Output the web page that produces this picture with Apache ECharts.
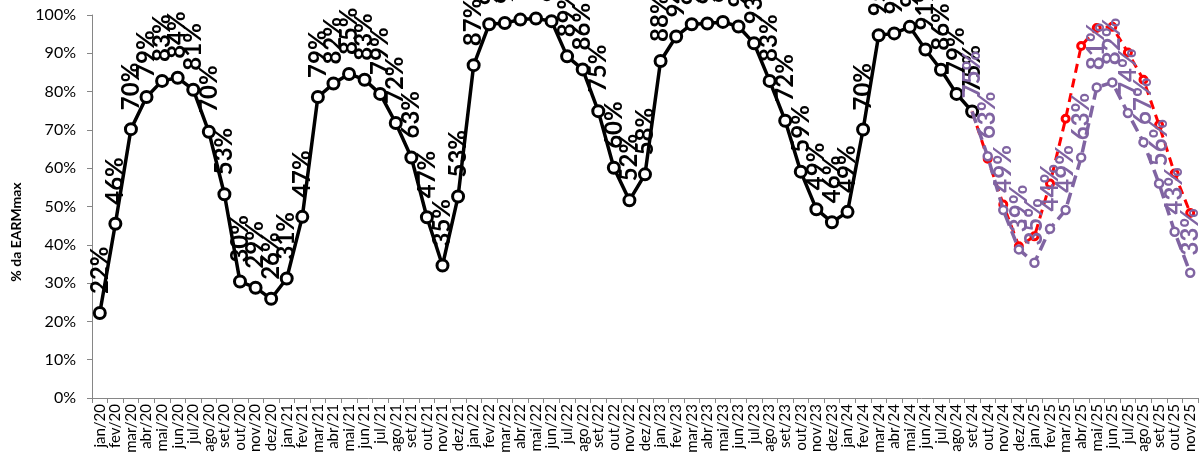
<!DOCTYPE html>
<html>
<head>
<meta charset="utf-8">
<script src="https://cdn.jsdelivr.net/npm/echarts@6/dist/echarts.min.js"></script>
<style>
  html, body { margin: 0; padding: 0; background: #fff; }
  #main { width: 1199px; height: 470px; }
</style>
</head>
<body>
<div id="main"></div>
<script>
// months jan/20 .. nov/25
let categories = [
  "jan/20", "fev/20", "mar/20", "abr/20", "mai/20", "jun/20", "jul/20", "ago/20", "set/20", "out/20", "nov/20", "dez/20",
  "jan/21", "fev/21", "mar/21", "abr/21", "mai/21", "jun/21", "jul/21", "ago/21", "set/21", "out/21", "nov/21", "dez/21",
  "jan/22", "fev/22", "mar/22", "abr/22", "mai/22", "jun/22", "jul/22", "ago/22", "set/22", "out/22", "nov/22", "dez/22",
  "jan/23", "fev/23", "mar/23", "abr/23", "mai/23", "jun/23", "jul/23", "ago/23", "set/23", "out/23", "nov/23", "dez/23",
  "jan/24", "fev/24", "mar/24", "abr/24", "mai/24", "jun/24", "jul/24", "ago/24", "set/24", "out/24", "nov/24", "dez/24",
  "jan/25", "fev/25", "mar/25", "abr/25", "mai/25", "jun/25", "jul/25", "ago/25", "set/25", "out/25", "nov/25",
];

// verified values, jan/20 .. set/24
let historico = [
  22.2, 45.5, 70.2, 78.6, 82.8, 83.6, 80.5, 69.5, 53.2, 30.4, 28.8, 25.9,
  31.2, 47.3, 78.6, 82.1, 84.6, 83.1, 79.4, 71.8, 62.8, 47.2, 34.6, 52.6,
  86.9, 97.6, 97.9, 98.8, 99.1, 98.4, 89.2, 85.8, 74.9, 60.1, 51.6, 58.4,
  88.0, 94.4, 97.6, 97.8, 98.2, 97.0, 92.6, 82.8, 72.4, 59.1, 49.3, 45.9,
  48.6, 70.1, 94.7, 95.2, 96.9, 91.0, 85.7, 79.4, 74.8,
];

// set/24 .. nov/25
let previsaoRoxa = [74.8, 63.1, 49.1, 38.8, 35.3, 44.2, 49.1, 62.8, 81.1, 82.4, 74.4, 66.8, 56.0, 43.4, 32.7];
let previsaoVermelha = [74.8, 62.5, 50.5, 39.6, 42.2, 56.0, 72.9, 91.9, 96.6, 96.9, 90.2, 83.1, 71.3, 58.6, 48.3];

let yTicks = [0, 10, 20, 30, 40, 50, 60, 70, 80, 90, 100];

let inicioPrevisao = historico.length - 1;

// forecast series start on the last verified month; their first marker stays hidden under the black one
function padSeries(values, start) {
  let out = [];
  for (let i = 0; i < categories.length; i++) {
    let k = i - start;
    if (k < 0 || k >= values.length) {
      out.push(null);
    } else if (k === 0 && start > 0) {
      out.push({ value: values[k], symbolSize: 0.1 });
    } else {
      out.push(values[k]);
    }
  }
  return out;
}

let fontFam = "Lato, 'Open Sans', sans-serif";

function pctLabel(color) {
  return {
    show: true,
    position: "top",
    rotate: 90,
    align: "left",
    verticalAlign: "middle",
    distance: 12,
    color: color,
    fontSize: 24,
    fontWeight: "bold",
    fontFamily: fontFam,
    formatter: function (p) {
      return Math.round(p.value) + "%";
    },
  };
}

let dom = document.getElementById("main");
let myChart = echarts.init(dom, null, { renderer: "canvas" });

let option = {
  backgroundColor: "#fff",
  animation: false,
  grid: { left: 92, right: 1, top: 15, bottom: 72 },
  graphic: [{
    type: "text",
    x: 16,
    y: 232,
    rotation: Math.PI / 2,
    style: {
      text: "% da EARMmax",
      fontSize: 14,
      fontWeight: "bold",
      fontFamily: fontFam,
      fill: "#000",
      textAlign: "center",
      textVerticalAlign: "middle",
    },
  }],
  xAxis: {
    type: "category",
    data: categories,
    boundaryGap: true,
    axisLine: { lineStyle: { color: "#868686", width: 1 } },
    axisTick: { show: true, length: 5, lineStyle: { color: "#868686" } },
    axisLabel: {
      interval: 0,
      rotate: 90,
      margin: 6,
      fontSize: 15,
      color: "#000",
      fontFamily: fontFam,
    },
    splitLine: { show: false },
  },
  yAxis: {
    type: "value",
    min: yTicks[0],
    max: yTicks[yTicks.length - 1],
    interval: 10,
    axisLine: { show: true, lineStyle: { color: "#868686", width: 1 } },
    axisTick: { show: true, length: 5, lineStyle: { color: "#868686" } },
    axisLabel: {
      margin: 16,
      fontSize: 16,
      color: "#000",
      fontFamily: fontFam,
      formatter: "{value}%",
    },
    splitLine: { show: false },
  },
  series: [
    {
      name: "Histórico",
      type: "line",
      data: padSeries(historico, 0),
      symbol: "circle",
      symbolSize: 11,
      lineStyle: { color: "#000", width: 3.5 },
      itemStyle: { color: "#fff", borderColor: "#000", borderWidth: 3 },
      label: pctLabel("#000"),
      z: 2,
    },
    {
      name: "Previsão 2",
      type: "line",
      data: padSeries(previsaoVermelha, inicioPrevisao),
      symbol: "circle",
      symbolSize: 7,
      lineStyle: { color: "#ff0000", width: 3, type: [9, 6] },
      itemStyle: { color: "#fff", borderColor: "#ff0000", borderWidth: 3 },
      label: { show: false },
      z: 3,
    },
    {
      name: "Previsão 1",
      type: "line",
      data: padSeries(previsaoRoxa, inicioPrevisao),
      symbol: "circle",
      symbolSize: 8,
      lineStyle: { color: "#8064a2", width: 3.5, type: [12, 6] },
      itemStyle: { color: "#fff", borderColor: "#8064a2", borderWidth: 2.5 },
      label: pctLabel("#8064a2"),
      z: 4,
    },
  ],
};

if (option && typeof option === "object") {
  myChart.setOption(option);
}

window.addEventListener("resize", myChart.resize);
</script>
</body>
</html>
